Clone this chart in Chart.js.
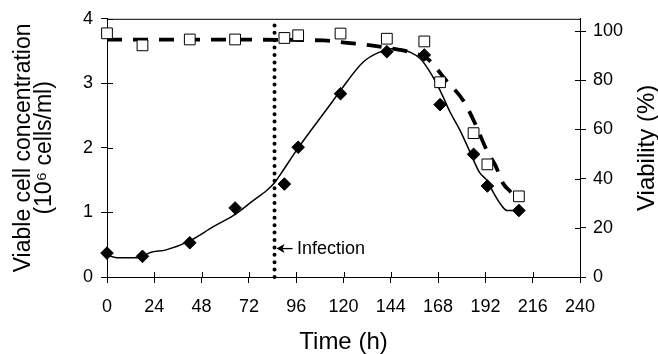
<!DOCTYPE html>
<html>
<head>
<meta charset="utf-8">
<script src="https://cdn.jsdelivr.net/npm/chart.js@4.4.1/dist/chart.umd.min.js"></script>
<style>
  html, body { margin: 0; padding: 0; background: #fff; }
  canvas { display: block; }
</style>
</head>
<body>
<canvas id="chart" width="658" height="354"></canvas>
<script>
// sampling times (h) and measured values
const sampleTimes = [0, 18, 42, 65, 90, 97, 118.5, 142, 161, 169, 186, 193, 209];
const cellConc = [0.37, 0.32, 0.53, 1.07, 1.44, 2.01, 2.84, 3.49, 3.44, 2.67, 1.90, 1.41, 1.03];
const viability = [99.1, 94.2, 96.6, 96.6, 97.2, 98.3, 99.0, 96.9, 95.8, 79.2, 58.5, 45.8, 32.8];

// fitted curves
const cellFitTimes = [0, 5, 16, 22, 30, 42, 54, 64, 74, 81, 85, 88, 97, 113, 118, 130, 138, 146, 154, 159, 164, 169, 174, 179, 184, 189, 193, 196, 199, 203, 208];
const cellFitValues = [0.34, 0.30, 0.30, 0.38, 0.42, 0.56, 0.78, 0.95, 1.18, 1.34, 1.46, 1.59, 2.0, 2.66, 2.87, 3.33, 3.48, 3.54, 3.48, 3.38, 3.17, 2.89, 2.56, 2.28, 1.95, 1.62, 1.49, 1.31, 1.16, 1.03, 1.03];
const viabFitTimes = [0, 60, 110, 122, 134, 147, 156, 163, 172, 181, 187, 193, 197, 201, 205];
const viabFitValues = [96.5, 96.5, 96.2, 95.2, 94.2, 92.6, 91, 88.5, 80, 71.5, 62, 51, 45.5, 38, 34.5];

// axes
const xTickValues = [0, 24, 48, 72, 96, 120, 144, 168, 192, 216, 240];
const yTickValues = [0, 1, 2, 3, 4];
const y2TickValues = [0, 20, 40, 60, 80, 100];

const infectionTime = 85;
const infectionLabel = "Infection";
const infectionLabelLevel = 0.44;

const xTitle = "Time (h)";
const yTitle = ["Viable cell concentration", "(10\u2076 cells/ml)"];
const y2Title = "Viability (%)";

const FONT = "'Liberation Sans', Arial, Helvetica, sans-serif";
Chart.defaults.font.family = FONT;
Chart.defaults.color = "#000";

const pts = (xs, ys) => xs.map((x, i) => ({ x, y: ys[i] }));
const setTicks = vals => s => { s.ticks = vals.map(v => ({ value: v })); };

// frame top line, inward tick marks, right title, infection note
const extras = {
  id: "extras",
  afterDraw(chart) {
    const { ctx, chartArea: a, scales } = chart;
    ctx.save();
    ctx.strokeStyle = "#000";
    ctx.lineWidth = 1;
    ctx.beginPath();
    ctx.moveTo(a.left, a.top + 0.5);
    ctx.lineTo(a.right, a.top + 0.5);
    scales.x.ticks.forEach(t => {
      const px = Math.round(scales.x.getPixelForValue(t.value)) + 0.5;
      ctx.moveTo(px, a.bottom);
      ctx.lineTo(px, a.bottom - 5);
    });
    scales.y.ticks.forEach(t => {
      const py = Math.round(scales.y.getPixelForValue(t.value)) + 0.5;
      ctx.moveTo(a.left, py);
      ctx.lineTo(a.left + 6, py);
    });
    scales.y2.ticks.forEach(t => {
      const py = Math.round(scales.y2.getPixelForValue(t.value)) + 0.5;
      ctx.moveTo(a.right, py);
      ctx.lineTo(a.right - 5, py);
    });
    ctx.stroke();

    // right axis title, reading bottom to top
    ctx.fillStyle = "#000";
    ctx.font = "24px " + FONT;
    ctx.textAlign = "center";
    ctx.textBaseline = "middle";
    ctx.translate(647, (a.top + a.bottom) / 2);
    ctx.rotate(-Math.PI / 2);
    ctx.fillText(y2Title, 0, 0);
    ctx.setTransform(1, 0, 0, 1, 0, 0);

    // infection arrow + label
    const x0 = scales.x.getPixelForValue(infectionTime);
    const y0 = scales.y.getPixelForValue(infectionLabelLevel);
    ctx.beginPath();
    ctx.moveTo(x0 + 2, y0);
    ctx.lineTo(x0 + 10, y0 - 4.5);
    ctx.lineTo(x0 + 8, y0);
    ctx.lineTo(x0 + 10, y0 + 4.5);
    ctx.closePath();
    ctx.fill();
    ctx.lineWidth = 1.3;
    ctx.beginPath();
    ctx.moveTo(x0 + 6, y0);
    ctx.lineTo(x0 + 18, y0);
    ctx.stroke();
    ctx.font = "18px " + FONT;
    ctx.textAlign = "left";
    ctx.fillText(infectionLabel, x0 + 22.5, y0);
    ctx.restore();
  }
};

new Chart(document.getElementById("chart"), {
  type: "scatter",
  data: {
    datasets: [
      {
        label: "Viable cells",
        data: pts(sampleTimes, cellConc),
        yAxisID: "y",
        pointStyle: "rectRot",
        pointRadius: 6.3,
        backgroundColor: "#000",
        borderColor: "#000",
        borderWidth: 1,
        showLine: false,
        clip: false,
      },
      {
        label: "Viability",
        data: pts(sampleTimes, viability),
        yAxisID: "y2",
        pointStyle: "rect",
        pointRadius: 7.6,
        backgroundColor: "#fff",
        borderColor: "#000",
        borderWidth: 1,
        showLine: false,
        clip: false,
      },
      {
        label: "Cell fit",
        data: pts(cellFitTimes, cellFitValues),
        yAxisID: "y",
        showLine: true,
        pointRadius: 0,
        borderColor: "#000",
        borderWidth: 1.5,
        cubicInterpolationMode: "monotone",
        clip: false,
      },
      {
        label: "Viability fit",
        data: pts(viabFitTimes, viabFitValues),
        yAxisID: "y2",
        showLine: true,
        pointRadius: 0,
        borderColor: "#000",
        borderWidth: 3.8,
        borderDash: [15, 11],
        cubicInterpolationMode: "monotone",
        clip: false,
      },
      {
        label: "Infection",
        data: [{ x: infectionTime, y: 0 }, { x: infectionTime, y: 4 }],
        yAxisID: "y",
        showLine: true,
        pointRadius: 0,
        borderColor: "#000",
        borderWidth: 4,
        borderDash: [0, 7.4],
        borderCapStyle: "round",
        clip: false,
      },
    ],
  },
  options: {
    responsive: false,
    animation: false,
    devicePixelRatio: 1,
    layout: { padding: { top: 16, left: 0, right: 0, bottom: 0 } },
    plugins: { legend: { display: false }, tooltip: { enabled: false } },
    scales: {
      x: {
        type: "linear",
        position: "bottom",
        min: 0,
        max: 240,
        afterBuildTicks: setTicks(xTickValues),
        afterFit: s => { s.height = 77; },
        ticks: { font: { size: 18 }, padding: 13, maxRotation: 0 },
        grid: { drawOnChartArea: false, color: "#000", tickLength: 6 },
        border: { color: "#000", width: 1 },
        title: { display: true, text: xTitle, font: { size: 24, lineHeight: 1 }, padding: { top: 0, bottom: 0 } },
      },
      y: {
        type: "linear",
        position: "left",
        min: 0,
        max: 4,
        afterBuildTicks: setTicks(yTickValues),
        afterFit: s => { s.width = 107; },
        ticks: { font: { size: 18 }, padding: 8 },
        grid: { drawOnChartArea: false, color: "#000", tickLength: 6 },
        border: { color: "#000", width: 1 },
        title: { display: true, text: yTitle, font: { size: 23, lineHeight: 0.92 }, padding: { top: 13, bottom: 0 } },
      },
      y2: {
        type: "linear",
        position: "right",
        min: 0,
        max: 105,
        afterBuildTicks: setTicks(y2TickValues),
        afterFit: s => { s.width = 78; },
        ticks: { font: { size: 18 }, padding: 7 },
        grid: { drawOnChartArea: false, color: "#000", tickLength: 6 },
        border: { color: "#000", width: 1 },
      },
    },
  },
  plugins: [extras],
});
</script>
</body>
</html>
